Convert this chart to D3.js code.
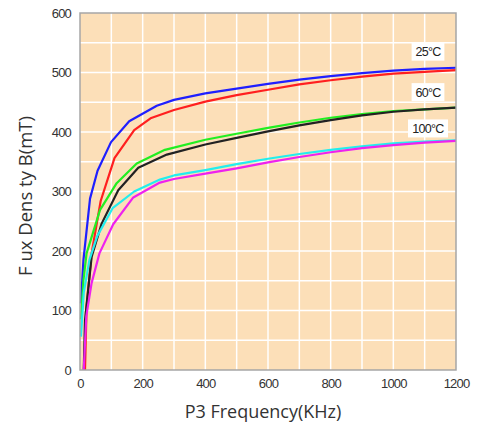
<!DOCTYPE html>
<html>
<head>
<meta charset="utf-8">
<script src="https://cdn.jsdelivr.net/npm/d3@7"></script>
<style>
  body { margin: 0; background: #fff; }
</style>
</head>
<body>
<svg width="477" height="427"></svg>
<script>
// frequency (KHz) and flux density (mT)
var blueF = [3, 11, 32, 56, 99, 157, 245, 300, 400, 500, 600, 700, 800, 900, 1000, 1100, 1200];
var blueB = [112, 185, 288, 335, 383, 418, 444, 454, 465, 473, 481, 488, 494, 499, 503, 506, 508];

var redF = [16, 21, 37, 66, 110, 173, 225, 300, 400, 500, 600, 700, 800, 900, 1000, 1100, 1200];
var redB = [0, 106, 196, 284, 356, 403, 423, 437, 451, 462, 471, 480, 487, 493, 498, 501, 504];

var greenF = [3, 11, 21, 64, 117, 181, 271, 400, 500, 600, 700, 800, 900, 1000, 1100, 1200];
var greenB = [85, 151, 196, 269, 314, 347, 370, 387, 397, 407, 416, 424, 430, 435, 438, 441];

var blackF = [12, 16, 37, 69, 122, 186, 277, 400, 500, 600, 700, 800, 900, 1000, 1100, 1200];
var blackB = [0, 84, 190, 246, 302, 340, 362, 379, 390, 401, 411, 420, 428, 434, 438, 441];

var cyanF = [3, 12, 30, 55, 104, 173, 255, 300, 400, 500, 600, 700, 800, 900, 1000, 1100, 1200];
var cyanB = [56, 130, 185, 225, 272, 300, 320, 327, 336, 346, 355, 363, 370, 376, 381, 384, 386];

var magentaF = [12, 20, 37, 62, 106, 170, 255, 300, 400, 500, 600, 700, 800, 900, 1000, 1100, 1200];
var magentaB = [0, 90, 146, 196, 245, 290, 315, 321, 330, 339, 349, 358, 366, 373, 378, 382, 385];

var xTicks = [0, 200, 400, 600, 800, 1000, 1200];
var yTicks = [0, 100, 200, 300, 400, 500, 600];
var tempLabels = ["25°C", "60°C", "100°C"];
var tempLabelB = [535, 467, 406];

var series = [
    { f: blueF, b: blueB, color: "#1f1fff" },
    { f: redF, b: redB, color: "#ff1f1f" },
    { f: greenF, b: greenB, color: "#22ee22" },
    { f: blackF, b: blackB, color: "#222222" },
    { f: cyanF, b: cyanB, color: "#22eeee" },
    { f: magentaF, b: magentaB, color: "#ee22ee" }
];

var svg = d3.select("svg");
var mLeft = 80, mRight = 456, mTop = 13, mBottom = 370;

var x = d3.scaleLinear().domain([0, 1200]).range([mLeft, mRight]);
var y = d3.scaleLinear().domain([0, 600]).range([mBottom, mTop]);

svg.append("rect")
    .attr("x", mLeft).attr("y", mTop)
    .attr("width", mRight - mLeft).attr("height", mBottom - mTop)
    .attr("fill", "#fcdfb8");

// white grid
var gGrid = svg.append("g");
gGrid.selectAll(".vg")
    .data(d3.range(100, 1200, 100))
    .enter().append("line")
    .attr("x1", function (d) { return x(d); })
    .attr("x2", function (d) { return x(d); })
    .attr("y1", mTop).attr("y2", mBottom)
    .attr("stroke", "#fff").attr("stroke-width", 1.5);
gGrid.selectAll(".hg")
    .data(d3.range(50, 600, 50))
    .enter().append("line")
    .attr("y1", function (d) { return y(d); })
    .attr("y2", function (d) { return y(d); })
    .attr("x1", mLeft).attr("x2", mRight)
    .attr("stroke", "#fff").attr("stroke-width", 1.5);

var line = d3.line()
    .x(function (d) { return x(d[0]); })
    .y(function (d) { return y(d[1]); });

svg.append("g").selectAll("path")
    .data(series)
    .enter().append("path")
    .attr("d", function (s) { return line(d3.zip(s.f, s.b)); })
    .attr("fill", "none")
    .attr("stroke", function (s) { return s.color; })
    .attr("stroke-width", 2.2)
    .attr("stroke-linejoin", "round");

// frame
svg.append("rect")
    .attr("x", mLeft).attr("y", mTop)
    .attr("width", mRight - mLeft).attr("height", mBottom - mTop)
    .attr("fill", "none").attr("stroke", "#a6a6a6").attr("stroke-width", 1.5);

// temperature labels on white boxes
var lab = svg.append("g").selectAll("g")
    .data(tempLabels)
    .enter().append("g")
    .attr("transform", function (d, i) { return "translate(" + 428 + "," + y(tempLabelB[i]) + ")"; });
lab.append("rect")
    .attr("x", function (d) { return -d.length * 3.6 - 2; })
    .attr("y", -9)
    .attr("width", function (d) { return d.length * 7.2 + 4; })
    .attr("height", 18)
    .attr("fill", "#fff");
lab.append("text")
    .attr("text-anchor", "middle")
    .attr("dy", "0.35em")
    .style("font-family", "\"Liberation Sans\", Arial, sans-serif")
    .style("font-size", "12.5px")
    .attr("letter-spacing", -0.7)
    .attr("fill", "#222")
    .text(function (d) { return d; });

// axes
var xAxis = svg.append("g")
    .attr("transform", "translate(0," + mBottom + ")")
    .call(d3.axisBottom(x).tickValues(xTicks).tickFormat(d3.format("d")).tickSize(0).tickPadding(9));
var yAxis = svg.append("g")
    .attr("transform", "translate(" + mLeft + ",0)")
    .call(d3.axisLeft(y).tickValues(yTicks).tickFormat(d3.format("d")).tickSize(0).tickPadding(9));
[xAxis, yAxis].forEach(function (a) {
    a.select(".domain").remove();
    a.selectAll("text")
        .attr("font-size", 13)
        .attr("letter-spacing", -0.8)
        .attr("fill", "#333")
        .attr("font-family", "\"Liberation Sans\", Arial, sans-serif");
});

svg.append("text")
    .attr("x", (mLeft + mRight) / 2 - 5)
    .attr("y", 418)
    .attr("text-anchor", "middle")
    .style("font-size", "18px")
    .style("font-family", "\"Open Sans\", \"DejaVu Sans\", sans-serif")
    .attr("fill", "#333")
    .text("P3 Frequency(KHz)");

svg.append("text")
    .attr("transform", "translate(32," + 196 + ") rotate(-90)")
    .attr("text-anchor", "middle")
    .style("font-size", "18.5px")
    .style("font-family", "\"Open Sans\", \"DejaVu Sans\", sans-serif")
    .attr("fill", "#333")
    .text("F ux Dens ty B(mT)");
</script>
</body>
</html>
